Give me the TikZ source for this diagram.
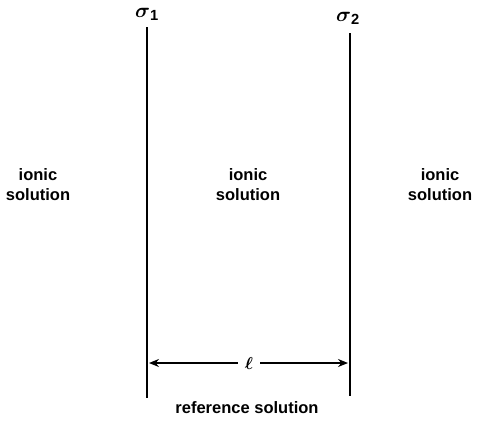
\documentclass[tikz,border=0pt]{standalone}
\usepackage{amsmath}
\usepackage{fontspec}
\setmainfont{Liberation Sans}
\usetikzlibrary{arrows.meta}
\begin{document}
\begin{tikzpicture}[x=1pt,y=-1pt,
  lbl/.style={font=\bfseries\fontsize{16.5}{20}\selectfont, align=center, inner sep=0pt},
  wall/.style={line width=2.4pt},
  dim/.style={line width=1.3pt, -{Stealth[length=10pt,width=8pt]}}]
\useasboundingbox (0,0) rectangle (477,429);
\coordinate (w1t) at (147,27);
\coordinate (w1b) at (147,398);
\coordinate (w2t) at (350,33);
\coordinate (w2b) at (350,396);
\draw[wall] (w1t) -- (w1b);
\draw[wall] (w2t) -- (w2b);
\node (s1) at (147,14) {\fontsize{21}{21}\selectfont$\boldsymbol{\sigma}_{\mathbf{1}}$};
\node (s2) at (348,18) {\fontsize{21}{21}\selectfont$\boldsymbol{\sigma}_{\mathbf{2}}$};
\node[lbl] (left) at (38,185) {ionic\\solution};
\node[lbl] (mid) at (248,185) {ionic\\solution};
\node[lbl] (right) at (440,185) {ionic\\solution};
\node[inner sep=7pt] (ell) at (249,363) {\fontsize{18}{18}\selectfont$\boldsymbol{\ell}$};
\coordinate (a1) at (149,363);
\coordinate (a2) at (348,363);
\draw[dim] (ell.west) -- (a1);
\draw[dim] (ell.east) -- (a2);
\node[lbl] (ref) at (247,408) {reference solution};
\end{tikzpicture}
\end{document}
